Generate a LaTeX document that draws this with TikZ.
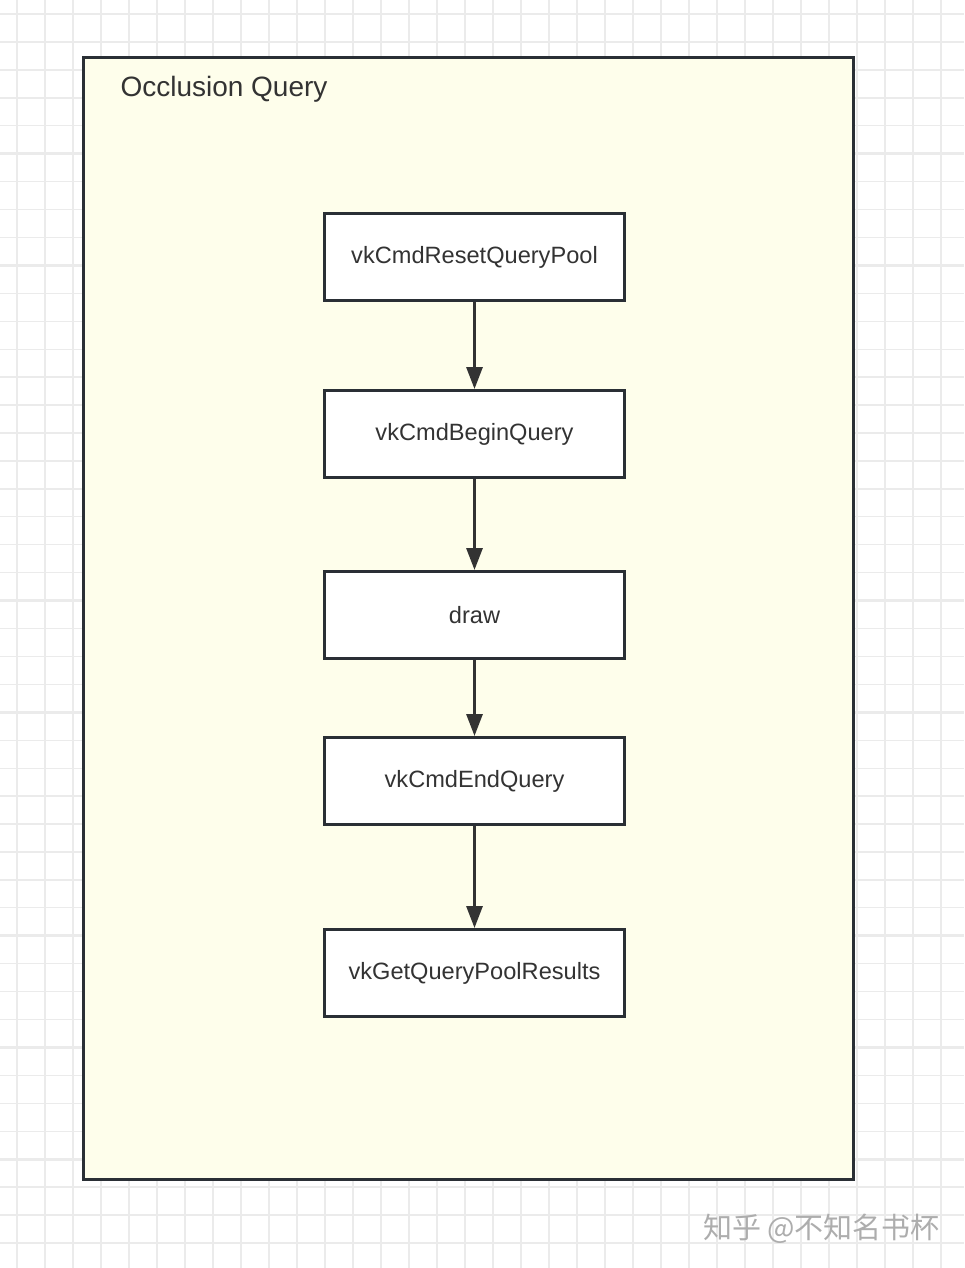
\documentclass[tikz,border=0pt]{standalone}
\usepackage{fontspec}
\setmainfont{Liberation Sans}
\newfontfamily\cjkfont{Noto Sans CJK SC}
\usetikzlibrary{arrows.meta}
\definecolor{gridgray}{HTML}{EBEBEB}
\definecolor{framedark}{HTML}{2A2F35}
\definecolor{paleyellow}{HTML}{FEFEEB}
\definecolor{textdark}{HTML}{333333}
\definecolor{markgray}{HTML}{ADADAD}
\tikzset{
	panel/.style={draw=framedark, line width=3pt, fill=paleyellow, inner sep=0pt},
	callbox/.style={draw=framedark, line width=3pt, fill=white, minimum width=300pt, minimum height=87pt, inner sep=0pt, text=textdark, font=\fontsize{23.6}{27}\selectfont},
	flow/.style={draw=textdark, line width=3pt, -{Triangle[length=22pt, width=16pt]}}
}

\begin{document}
\begin{tikzpicture}[x=1pt, y=-1pt]
			\useasboundingbox[fill=white] (0,0) rectangle (964,1268);
			\foreach \i in {0,...,34}{
				\pgfmathsetmacro\gx{17+28*\i}
				\pgfmathsetmacro\gw{ifthenelse(mod(\i,4)==2,2.6,1.3)}
				\draw[gridgray, line width=\gw pt] (\gx,0) -- (\gx,1268);
			}
			\foreach \j in {0,...,46}{
				\pgfmathsetmacro\gy{14.07+27.93*\j}
				\pgfmathsetmacro\gw{ifthenelse(mod(\j,4)==1,2.6,1.3)}
				\draw[gridgray, line width=\gw pt] (0,\gy) -- (964,\gy);
			}
			\node[panel, minimum width=770pt, minimum height=1122pt] (query) at (468.5,618.5) {};
			\node[anchor=base west, text=textdark, font=\fontsize{28}{32}\selectfont] (title) at (117,97) {Occlusion Query};
			\node[callbox] (reset) at (474.5,257) {vkCmdResetQueryPool};
			\node[callbox] (begin) at (474.5,434) {vkCmdBeginQuery};
			\node[callbox] (draw) at (474.5,615) {draw};
			\node[callbox] (end) at (474.5,781) {vkCmdEndQuery};
			\node[callbox] (results) at (474.5,973) {vkGetQueryPoolResults};
			\draw[flow] (reset) -- (begin);
			\draw[flow] (begin) -- (draw);
			\draw[flow] (draw) -- (end);
			\draw[flow] (end) -- (results);
			\node[anchor=center, text=markgray, font=\cjkfont\fontsize{29}{32}\selectfont] (mark) at (821.5,1229) {知乎 @不知名书杯};
		\end{tikzpicture}
\end{document}
